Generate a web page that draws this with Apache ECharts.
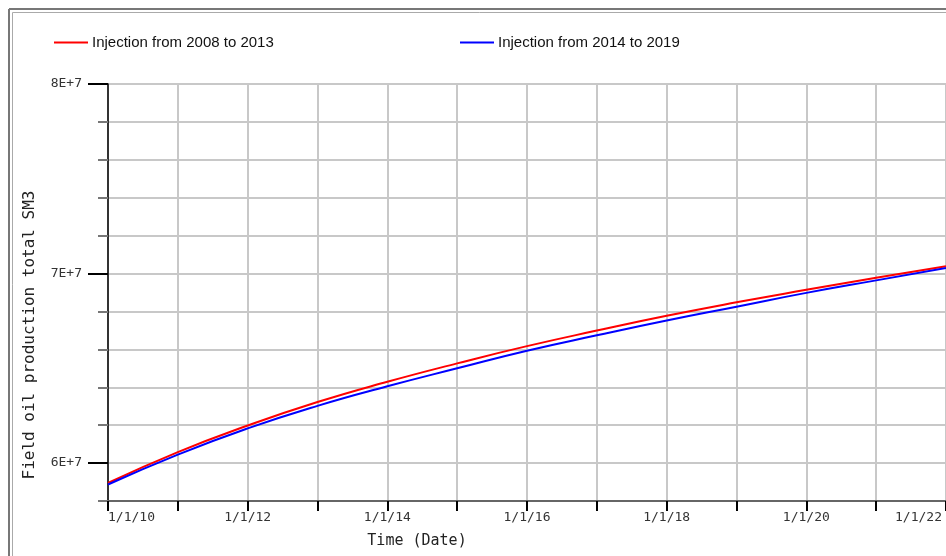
<!DOCTYPE html>
<html><head><meta charset="utf-8">
<script src="https://cdn.jsdelivr.net/npm/echarts@6/dist/echarts.min.js"></script>
<style>html,body{margin:0;padding:0;background:#fff}#c{width:946px;height:556px}</style>
</head><body><div id="c"></div>
<script>
const seriesNames = ['Injection from 2008 to 2013', 'Injection from 2014 to 2019'];
const years = [2010, 2011, 2012, 2013, 2014, 2015, 2016, 2017, 2018, 2019, 2020, 2021, 2022];
const injection2008to2013 = [5.895e7, 6.058e7, 6.198e7, 6.322e7, 6.429e7, 6.526e7, 6.617e7, 6.699e7, 6.777e7, 6.848e7, 6.914e7, 6.978e7, 7.039e7];
const injection2014to2019 = [5.887e7, 6.045e7, 6.183e7, 6.302e7, 6.405e7, 6.500e7, 6.593e7, 6.674e7, 6.752e7, 6.825e7, 6.898e7, 6.964e7, 7.029e7];
const xLabelYears = [2010, 2012, 2014, 2016, 2018, 2020, 2022];
const yMajorTicks = [6e7, 7e7, 8e7];
const yTitle = 'Field oil production total SM3';
const xTitle = 'Time (Date)';

const chart = echarts.init(document.getElementById('c'));
const mono = 'DejaVu Sans Mono';
const gridColor = '#c8c8c8';
const pair = (xs, ys) => xs.map((x, i) => [x, ys[i]]);
const legendText = { fontFamily: 'Liberation Sans', fontSize: 15, color: '#111', padding: [0, 0, 0, -1] };

chart.setOption({
  animation: false,
  backgroundColor: '#fff',
  grid: { left: 108, width: 841, top: 84, bottom: 55, containLabel: false },
  legend: [
    { data: [seriesNames[0]], left: 54, top: 35, padding: 0, icon: 'rect', itemWidth: 34, itemHeight: 2, itemGap: 0, textStyle: legendText },
    { data: [seriesNames[1]], left: 460, top: 35, padding: 0, icon: 'rect', itemWidth: 34, itemHeight: 2, itemGap: 0, textStyle: legendText }
  ],
  xAxis: {
    type: 'value', min: 2010, max: 2022, interval: 1,
    axisLine: { show: true, lineStyle: { color: '#666', width: 2 } },
    axisTick: { show: true, length: 10, lineStyle: { color: '#000', width: 2 } },
    splitLine: { show: true, lineStyle: { color: gridColor, width: 2 } },
    axisLabel: {
      margin: 10, fontFamily: mono, fontSize: 13, color: '#333',
      showMinLabel: true, showMaxLabel: true,
      alignMinLabel: 'left', alignMaxLabel: 'right',
      rich: { e: { fontFamily: mono, fontSize: 13, color: '#333', padding: [0, 4, 0, 0] } },
      formatter: v => {
        if (!xLabelYears.includes(v)) return '';
        const t = '1/1/' + String(v).slice(2);
        return v === 2022 ? '{e|' + t + '}' : t;
      }
    }
  },
  yAxis: [
    {
      type: 'value', position: 'left', min: 5.8e7, max: 8e7, interval: 2e6,
      axisLine: { show: true, onZero: false, lineStyle: { color: '#000', width: 1.5 } },
      axisTick: { show: true, length: 10, lineStyle: { color: '#777', width: 2 } },
      splitLine: { show: true, lineStyle: { color: gridColor, width: 2 } },
      axisLabel: { show: false }
    },
    {
      type: 'value', position: 'left', offset: 0, min: 5.8e7, max: 8e7, interval: 2e6,
      axisLine: { show: false },
      splitLine: { show: false },
      axisTick: { show: true, length: 20, customValues: yMajorTicks, lineStyle: { color: '#000', width: 2 } },
      axisLabel: {
        show: true, margin: 26, customValues: yMajorTicks,
        fontFamily: mono, fontSize: 13, color: '#333',
        formatter: v => Math.round(v / 1e7) + 'E+7'
      }
    }
  ],
  series: [
    { name: seriesNames[0], type: 'line', yAxisIndex: 0, smooth: true, showSymbol: false, symbol: 'none',
      data: pair(years, injection2008to2013), color: '#ff0000', lineStyle: { color: '#ff0000', width: 2 } },
    { name: seriesNames[1], type: 'line', yAxisIndex: 0, smooth: true, showSymbol: false, symbol: 'none',
      data: pair(years, injection2014to2019), color: '#0000ff', lineStyle: { color: '#0000ff', width: 2 } }
  ],
  graphic: [
    { type: 'line', shape: { x1: 9, y1: 9, x2: 946, y2: 9 }, style: { stroke: '#777', lineWidth: 2 } },
    { type: 'line', shape: { x1: 9, y1: 9, x2: 9, y2: 556 }, style: { stroke: '#777', lineWidth: 2 } },
    { type: 'line', shape: { x1: 12.5, y1: 12.5, x2: 946, y2: 12.5 }, style: { stroke: '#aaa', lineWidth: 1 } },
    { type: 'line', shape: { x1: 12.5, y1: 12.5, x2: 12.5, y2: 556 }, style: { stroke: '#aaa', lineWidth: 1 } },
    { type: 'line', shape: { x1: 98, y1: 501, x2: 108, y2: 501 }, style: { stroke: '#666', lineWidth: 2 } },
    { type: 'text', x: 30, y: 335, rotation: Math.PI / 2,
      style: { text: yTitle, fontFamily: mono, fontSize: 16, fill: '#222', align: 'center', verticalAlign: 'middle' } },
    { type: 'text', x: 417, y: 541,
      style: { text: xTitle, fontFamily: mono, fontSize: 15, fill: '#222', align: 'center', verticalAlign: 'middle' } }
  ]
});
</script>
</body></html>
